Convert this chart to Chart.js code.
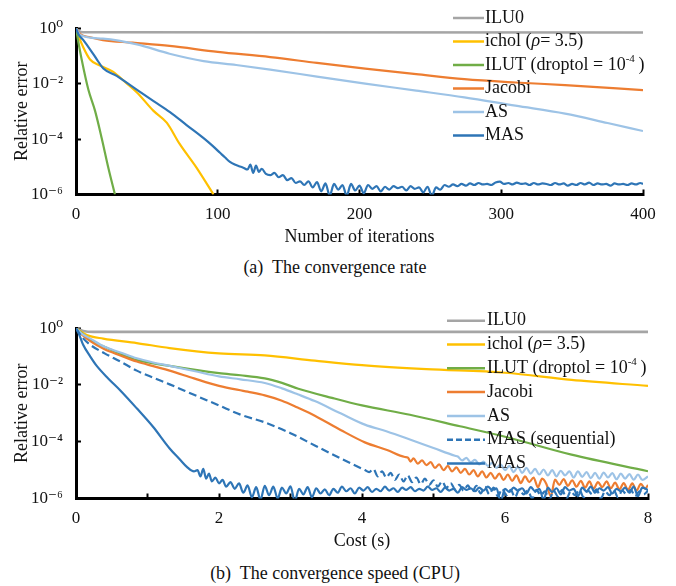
<!DOCTYPE html>
<html>
<head>
<meta charset="utf-8">
<script src="https://cdn.jsdelivr.net/npm/chart.js@4.4.1/dist/chart.umd.min.js"></script>
<style>
  html, body { margin: 0; padding: 0; background: #fff; }
  body { width: 676px; height: 586px; position: relative; overflow: hidden;
    font-family: "Liberation Serif", Tinos, "Times New Roman", "DejaVu Serif", "Noto Serif", serif; }
  .panel { position: absolute; left: 0; }
  .caption { position: absolute; left: 0; width: 670px; text-align: center; font-size: 18px; color: #111; white-space: pre; }
</style>
</head>
<body>
<canvas id="rate" class="panel" width="676" height="250" style="top:0"></canvas>
<div class="caption" style="top:257px">(a)  The convergence rate</div>
<canvas id="speed" class="panel" width="676" height="255" style="top:300px"></canvas>
<div class="caption" style="top:563px">(b)  The convergence speed (CPU)</div>
<script>
/*global Chart*/
(function () {
  "use strict";

  // ---- tick labels
  var errTicks = [1, 1e-2, 1e-4, 1e-6];
  var errTickLabels = ["10\u2070", "10\u207b\u00b2", "10\u207b\u2074", "10\u207b\u2076"];
  var iterTicks = [0, 100, 200, 300, 400];
  var costTicks = [0, 2, 4, 6, 8];
  var costTickMarks = [0, 1, 2, 3, 4, 5, 6, 7, 8];

  // ---- series names
  var rateNames = ["ILU0", "ichol (_\u03c1_= 3.5)", "ILUT (droptol = 10^{-4}\u2009)", "Jacobi", "AS", "MAS"];
  var speedNames = ["ILU0", "ichol (_\u03c1_= 3.5)", "ILUT (droptol = 10^{-4}\u2009)", "Jacobi", "AS", "MAS (sequential)", "MAS"];

  // ---- (a) relative error vs iterations, [iteration, error]
  var ilu0Rate = [[0, 1], [2, 0.78], [5, 0.71], [400, 0.7]];
  var icholRate = [[0, 1], [2, 0.5], [5.2, 0.2], [9.9, 0.074], [16.9, 0.045], [26, 0.027], [35, 0.011],
    [43, 0.0048], [54.5, 0.00106], [64, 3.9e-4], [73, 6.8e-5], [85, 9.3e-6], [97, 1e-6]];
  var ilutRate = [[0, 1], [1.6, 0.33], [4, 0.074], [8.7, 0.0061], [13.4, 0.00106], [18.1, 1.1e-4],
    [22.8, 9.3e-6], [27.5, 1e-6]];
  var jacobiRate = [[0, 1], [3, 0.61], [10, 0.47], [19, 0.37], [40, 0.3], [66, 0.23], [100, 0.14],
    [137, 0.091], [170, 0.056], [204, 0.035], [240, 0.022], [274, 0.0145], [310, 0.011], [345, 0.0089],
    [400, 0.0058]];
  var asRate = [[0, 1], [3, 0.57], [19, 0.42], [43, 0.26], [66, 0.12], [90, 0.065], [113, 0.047],
    [137, 0.032], [170, 0.018], [204, 0.01], [240, 0.0056], [274, 0.0032], [310, 0.0016], [345, 8.3e-4],
    [375, 3.8e-4], [400, 1.95e-4]];
  var masRate = [[0, 1], [1.6, 0.62], [5.2, 0.37], [10, 0.17], [15, 0.071], [19.3, 0.035], [28.7, 0.019],
    [35, 0.0115], [42.8, 0.0061], [55, 0.0023], [66.3, 9.4e-4], [78, 3.2e-4], [89.8, 1.1e-4], [96, 5.9e-5],
    [101.6, 3.2e-5], [105, 2.2e-5], [108.6, 1.5e-5], [112, 1.2e-5], [115, 1.05e-5], [118, 9.3e-6],
    [121, 8.0e-6], [123, 1.2e-5], [125, 6.0e-6], [127, 1.1e-5], [129, 6.5e-6], [131, 8.5e-6], [134, 5.5e-6],
    [137, 5.0e-6], [140, 6.0e-6], [143, 4.2e-6], [146, 5.0e-6], [149, 3.3e-6], [152, 3.9e-6], [155, 2.6e-6],
    [158, 3.0e-6], [161, 2.2e-6], [164, 3.0e-6], [167, 1.8e-6], [170, 2.8e-6], [173, 1.3e-6], [176, 2.5e-6],
    [179, 0.9e-6], [182, 2.4e-6], [185, 1.5e-6], [188, 2.2e-6], [191, 0.9e-6], [194, 2.4e-6], [197, 1.4e-6],
    [200, 2.1e-6], [203, 1.1e-6], [206, 2.2e-6], [209, 1.6e-6], [212, 2.0e-6], [215, 1.3e-6], [218, 1.9e-6],
    [221, 1.5e-6], [224, 2.0e-6], [227, 1.7e-6], [230, 1.9e-6], [233, 1.4e-6], [236, 2.0e-6], [239, 1.6e-6],
    [242, 1.8e-6], [245, 1.2e-6], [248, 1.9e-6], [251, 0.9e-6], [254, 1.8e-6], [257, 1.5e-6], [260, 2.2e-6],
    [263, 1.9e-6], [266, 2.3e-6], [269, 2.0e-6], [272, 2.4e-6], [275, 2.1e-6], [278, 2.5e-6], [281, 2.2e-6],
    [284, 2.6e-6], [287, 2.3e-6], [290, 2.4e-6], [293, 2.2e-6], [296, 2.7e-6], [299, 2.9e-6], [302, 2.4e-6],
    [305, 2.6e-6], [308, 2.3e-6], [311, 2.7e-6], [314, 2.4e-6], [317, 2.5e-6], [320, 2.2e-6], [323, 2.6e-6],
    [326, 2.3e-6], [329, 2.5e-6], [332, 2.4e-6], [335, 2.2e-6], [338, 2.6e-6], [341, 2.3e-6], [344, 2.5e-6],
    [347, 2.1e-6], [350, 2.4e-6], [353, 2.2e-6], [356, 2.6e-6], [359, 2.3e-6], [362, 2.7e-6], [365, 2.2e-6],
    [368, 2.5e-6], [371, 2.3e-6], [374, 2.4e-6], [377, 2.1e-6], [380, 2.5e-6], [383, 2.3e-6], [386, 2.4e-6],
    [389, 2.2e-6], [392, 2.5e-6], [395, 2.3e-6], [398, 2.6e-6], [400, 2.4e-6]];

  // ---- (b) relative error vs cost (s), [seconds, error]
  var ilu0Speed = [[0, 1], [0.1, 0.8], [0.25, 0.74], [8, 0.74]];
  var icholSpeed = [[0, 1], [0.15, 0.58], [0.38, 0.43], [0.85, 0.3], [1.31, 0.2], [2.0, 0.13], [2.64, 0.11],
    [3.34, 0.072], [4.0, 0.05], [4.9, 0.036], [6.0, 0.027], [6.93, 0.015], [8, 0.0093]];
  var ilutSpeed = [[0, 1], [0.2, 0.38], [0.38, 0.23], [0.62, 0.125], [0.85, 0.076], [1.31, 0.047],
    [2.0, 0.026], [2.3, 0.022], [2.64, 0.017], [2.88, 0.0118], [3.11, 0.0074], [3.58, 0.0035], [4.0, 0.0019],
    [4.67, 8.9e-4], [5.37, 3.5e-4], [6.0, 1.5e-4], [6.93, 3.5e-5], [8, 9.1e-6]];
  var jacobiSpeed = [[0, 1], [0.08, 0.6], [0.2, 0.35], [0.4, 0.18], [0.62, 0.11], [0.85, 0.067],
    [1.08, 0.046], [1.31, 0.032], [1.65, 0.017], [2.0, 0.0093], [2.4, 0.0058], [2.64, 0.0043], [2.88, 0.0028],
    [3.1, 0.0016], [3.34, 8.3e-4], [3.7, 2.6e-4], [4.04, 9.5e-5], [4.35, 5.1e-5], [4.6, 2.9e-5],
    [4.64, 2.8e-5], [4.68, 2.0e-5], [4.72, 2.6e-5], [4.78, 1.7e-5], [4.84, 2.2e-5], [4.90, 1.5e-5],
    [4.96, 1.9e-5], [5.02, 1.2e-5], [5.08, 1.6e-5], [5.14, 1.0e-5], [5.20, 1.4e-5], [5.26, 9.0e-6],
    [5.32, 1.25e-5], [5.38, 8.0e-6], [5.44, 1.1e-5], [5.50, 7.0e-6], [5.56, 1.0e-5], [5.62, 6.0e-6],
    [5.68, 9.0e-6], [5.74, 5.5e-6], [5.80, 8.0e-6], [5.86, 5.0e-6], [5.92, 7.5e-6], [5.98, 4.5e-6],
    [6.04, 7.0e-6], [6.10, 4.2e-6], [6.16, 6.5e-6], [6.22, 3.5e-6], [6.28, 6.0e-6], [6.34, 3.8e-6],
    [6.40, 5.5e-6], [6.46, 2.5e-6], [6.52, 5.0e-6], [6.58, 3.2e-6], [6.64, 1.2e-6], [6.70, 4.6e-6],
    [6.76, 3.0e-6], [6.82, 4.8e-6], [6.88, 2.8e-6], [6.94, 4.4e-6], [7.00, 2.6e-6], [7.06, 4.2e-6],
    [7.12, 2.4e-6], [7.18, 4.0e-6], [7.24, 2.2e-6], [7.30, 3.8e-6], [7.36, 2.5e-6], [7.42, 4.0e-6],
    [7.48, 2.3e-6], [7.54, 3.6e-6], [7.60, 2.1e-6], [7.66, 3.5e-6], [7.72, 2.0e-6], [7.78, 3.4e-6],
    [7.84, 1.9e-6], [7.90, 3.3e-6], [7.96, 2.2e-6], [8.00, 3.0e-6]];
  var asSpeed = [[0, 1], [0.08, 0.65], [0.2, 0.43], [0.4, 0.22], [0.62, 0.14], [0.85, 0.087], [1.08, 0.062],
    [1.31, 0.047], [1.65, 0.031], [2.0, 0.02], [2.3, 0.0158], [2.64, 0.0117], [2.88, 0.0076], [3.1, 0.0047],
    [3.34, 0.0027], [3.7, 0.001], [4.04, 4e-4], [4.35, 2.3e-4], [4.67, 1.2e-4], [5.0, 6e-5], [5.3, 3.2e-5],
    [5.34, 3.0e-5], [5.40, 2.2e-5], [5.46, 2.7e-5], [5.52, 1.9e-5], [5.58, 2.3e-5], [5.64, 1.6e-5],
    [5.70, 2.0e-5], [5.76, 1.4e-5], [5.82, 1.8e-5], [5.88, 1.2e-5], [5.94, 1.6e-5], [6.00, 1.0e-5],
    [6.06, 1.4e-5], [6.12, 8.5e-6], [6.18, 1.3e-5], [6.24, 8.0e-6], [6.30, 1.2e-5], [6.36, 7.5e-6],
    [6.42, 1.1e-5], [6.48, 7.0e-6], [6.54, 1.05e-5], [6.60, 6.5e-6], [6.66, 1.0e-5], [6.72, 6.0e-6],
    [6.78, 9.5e-6], [6.84, 6.5e-6], [6.90, 9.0e-6], [6.96, 5.5e-6], [7.02, 9.0e-6], [7.08, 5.8e-6],
    [7.14, 8.5e-6], [7.20, 5.2e-6], [7.26, 8.0e-6], [7.32, 5.0e-6], [7.38, 8.2e-6], [7.44, 5.5e-6],
    [7.50, 7.8e-6], [7.56, 4.8e-6], [7.62, 7.5e-6], [7.68, 5.0e-6], [7.74, 7.2e-6], [7.80, 4.6e-6],
    [7.86, 7.0e-6], [7.92, 4.5e-6], [8.00, 6.0e-6]];
  var masSeqSpeed = [[0, 1], [0.08, 0.5], [0.2, 0.26], [0.4, 0.13], [0.62, 0.067], [0.85, 0.032],
    [1.08, 0.018], [1.31, 0.0105], [1.65, 0.0045], [2.0, 0.0019], [2.3, 9e-4], [2.64, 4.8e-4], [3.0, 2e-4],
    [3.34, 7.4e-5], [3.7, 2.6e-5], [4.04, 1e-5],
    [4.10, 8.5e-6], [4.16, 1.1e-5], [4.22, 6.0e-6], [4.28, 9.0e-6], [4.34, 5.5e-6], [4.40, 8.0e-6],
    [4.46, 4.5e-6], [4.52, 7.0e-6], [4.58, 4.0e-6], [4.64, 6.5e-6], [4.70, 3.8e-6], [4.76, 5.5e-6],
    [4.82, 3.2e-6], [4.88, 5.0e-6], [4.94, 3.0e-6], [5.00, 4.4e-6], [5.06, 2.6e-6], [5.12, 4.0e-6],
    [5.18, 2.4e-6], [5.24, 3.5e-6], [5.30, 2.2e-6], [5.36, 3.0e-6], [5.42, 1.9e-6], [5.48, 2.9e-6],
    [5.54, 1.7e-6], [5.60, 2.8e-6], [5.66, 1.5e-6], [5.72, 2.6e-6], [5.78, 1.4e-6], [5.84, 2.4e-6],
    [5.90, 1.2e-6], [5.96, 2.2e-6], [6.02, 1.3e-6], [6.08, 2.0e-6], [6.14, 1.1e-6], [6.20, 2.1e-6],
    [6.26, 1.4e-6], [6.32, 1.9e-6], [6.38, 1.0e-6], [6.44, 2.0e-6], [6.50, 1.3e-6], [6.56, 1.8e-6],
    [6.62, 0.9e-6], [6.68, 1.9e-6], [6.74, 1.2e-6], [6.80, 2.0e-6], [6.86, 1.0e-6], [6.92, 1.8e-6],
    [6.98, 1.3e-6], [7.04, 2.0e-6], [7.10, 1.1e-6], [7.16, 1.9e-6], [7.22, 1.4e-6], [7.28, 2.1e-6],
    [7.34, 1.0e-6], [7.40, 1.8e-6], [7.46, 1.3e-6], [7.52, 2.0e-6], [7.58, 1.1e-6], [7.64, 1.9e-6],
    [7.70, 1.4e-6], [7.76, 2.0e-6], [7.82, 1.2e-6], [7.88, 1.8e-6], [7.94, 1.4e-6], [8.00, 1.9e-6]];
  var masSpeed = [[0, 1], [0.05, 0.55], [0.1, 0.26], [0.2, 0.1], [0.29, 0.047], [0.45, 0.017],
    [0.62, 0.0064], [0.85, 0.0015], [1.08, 3.3e-4], [1.31, 5.8e-5], [1.45, 2.4e-5], [1.55, 1.3e-5],
    [1.65, 9e-6], [1.70, 1.0e-5], [1.74, 6.0e-6], [1.78, 1.1e-5], [1.82, 5.0e-6], [1.86, 7.5e-6],
    [1.90, 4.0e-6], [1.95, 5.5e-6], [2.00, 3.4e-6], [2.05, 4.5e-6], [2.10, 2.6e-6], [2.16, 3.8e-6],
    [2.22, 2.2e-6], [2.28, 3.4e-6], [2.34, 1.6e-6], [2.40, 2.9e-6], [2.46, 1.1e-6], [2.52, 2.5e-6],
    [2.58, 0.9e-6], [2.64, 2.8e-6], [2.70, 1.3e-6], [2.76, 2.6e-6], [2.82, 1.0e-6], [2.88, 2.4e-6],
    [2.94, 1.5e-6], [3.00, 2.7e-6], [3.06, 0.8e-6], [3.12, 2.2e-6], [3.18, 1.4e-6], [3.24, 2.5e-6],
    [3.30, 1.1e-6], [3.36, 2.3e-6], [3.42, 1.5e-6], [3.48, 2.1e-6], [3.54, 1.3e-6], [3.60, 2.2e-6],
    [3.66, 1.6e-6], [3.72, 2.6e-6], [3.78, 1.8e-6], [3.84, 2.3e-6], [3.90, 1.5e-6], [3.96, 2.4e-6],
    [4.02, 1.9e-6], [4.08, 2.5e-6], [4.14, 1.7e-6], [4.20, 2.2e-6], [4.26, 1.8e-6], [4.32, 2.6e-6],
    [4.38, 1.9e-6], [4.44, 2.3e-6], [4.50, 1.7e-6], [4.56, 2.4e-6], [4.62, 2.0e-6], [4.68, 2.5e-6],
    [4.74, 1.8e-6], [4.80, 2.2e-6], [4.86, 1.9e-6], [4.92, 2.6e-6], [4.98, 2.0e-6], [5.04, 2.3e-6],
    [5.10, 1.7e-6], [5.16, 2.4e-6], [5.22, 1.9e-6], [5.28, 2.2e-6], [5.34, 1.6e-6], [5.40, 2.5e-6],
    [5.46, 2.0e-6], [5.52, 2.3e-6], [5.58, 1.8e-6], [5.64, 2.4e-6], [5.70, 1.9e-6], [5.76, 2.6e-6],
    [5.82, 2.0e-6], [5.88, 2.3e-6], [5.94, 0.8e-6], [6.00, 2.2e-6], [6.06, 1.7e-6], [6.12, 2.4e-6],
    [6.18, 1.9e-6], [6.24, 2.3e-6], [6.30, 1.5e-6], [6.36, 2.5e-6], [6.42, 1.8e-6], [6.48, 2.2e-6],
    [6.54, 0.9e-6], [6.60, 2.4e-6], [6.66, 1.7e-6], [6.72, 2.3e-6], [6.78, 1.4e-6], [6.84, 2.5e-6],
    [6.90, 1.9e-6], [6.96, 2.2e-6], [7.02, 1.2e-6], [7.08, 2.4e-6], [7.14, 1.8e-6], [7.20, 2.6e-6],
    [7.26, 1.6e-6], [7.32, 2.3e-6], [7.38, 1.9e-6], [7.44, 2.5e-6], [7.50, 1.5e-6], [7.56, 2.2e-6],
    [7.62, 1.8e-6], [7.68, 2.4e-6], [7.74, 1.6e-6], [7.80, 2.6e-6], [7.86, 1.2e-6], [7.92, 2.4e-6],
    [8.00, 2.0e-6]];

  var FONT = "\"Liberation Serif\", Tinos, \"Times New Roman\", \"DejaVu Serif\", \"Noto Serif\", serif";
  var INK = "#111";
  var palette = {
    ilu0: "#a5a5a5",
    ichol: "#ffc000",
    ilut: "#70ad47",
    jacobi: "#ed7d31",
    as: "#9dc3e6",
    mas: "#2e75b6"
  };

  // draws "_italic_" and "^{superscript}" pieces of a label
  function drawRich(ctx, text, x, y, size) {
    var parts = text.split(/(\^\{[^}]*\}|_[^_]+_)/), i, p, font, dy, s;
    ctx.textBaseline = "middle";
    ctx.textAlign = "left";
    ctx.fillStyle = INK;
    for (i = 0; i < parts.length; i += 1) {
      p = parts[i];
      if (p) {
        font = size + "px " + FONT;
        dy = 0;
        s = p;
        if (p.indexOf("^{") === 0) {
          s = p.slice(2, -1);
          font = Math.round(size * 0.62) + "px " + FONT;
          dy = -size * 0.33;
        } else if (p.charAt(0) === "_") {
          s = p.slice(1, -1);
          font = "italic " + size + "px " + FONT;
        }
        ctx.font = font;
        ctx.fillText(s, x, y + dy);
        x += ctx.measureText(s).width;
      }
    }
  }

  var richLegend = {
    id: "richLegend",
    afterDraw: function (chart, args, opts) {
      var ctx = chart.ctx;
      ctx.save();
      chart.data.datasets.forEach(function (ds, i) {
        var y = opts.top + i * opts.step;
        ctx.beginPath();
        ctx.strokeStyle = ds.borderColor;
        ctx.lineWidth = 2.5;
        ctx.setLineDash(ds.borderDash ? [6, 3] : []);
        ctx.moveTo(opts.lineFrom, y);
        ctx.lineTo(opts.lineTo, y);
        ctx.stroke();
        ctx.setLineDash([]);
        drawRich(ctx, ds.label, opts.textX, y, opts.size);
      });
      ctx.restore();
    }
  };

  function series(label, pts, color, dashed) {
    return {
      label: label,
      data: pts,
      borderColor: color,
      borderWidth: color === palette.ilu0 ? 2.6 : 2.2,
      borderDash: dashed ? [8, 4] : undefined,
      pointRadius: 0,
      cubicInterpolationMode: "monotone",
      fill: false
    };
  }

  function errAxis(titlePad) {
    return {
      type: "logarithmic",
      min: 1e-6,
      max: 1,
      afterBuildTicks: function (scale) {
        scale.ticks = errTicks.map(function (v) { return {value: v}; });
      },
      afterFit: function (scale) { scale.width = 76; },
      ticks: {
        padding: 18,
        color: INK,
        font: {family: FONT, size: 17},
        callback: function (v) {
          var k = errTicks.indexOf(v);
          return k < 0 ? "" : errTickLabels[k];
        }
      },
      grid: {drawOnChartArea: false, tickLength: -5, tickWidth: 2, tickColor: "#000"},
      border: {color: "#000", width: 3},
      title: {display: true, text: "Relative error", color: INK, font: {family: FONT, size: 18},
        padding: {top: titlePad, bottom: 0}}
    };
  }

  function makeChart(id, datasets, xAxis, pad, legend) {
    datasets.forEach(function (ds, i) { ds.order = datasets.length - i; });
    return new Chart(document.getElementById(id), {
      type: "line",
      data: {datasets: datasets},
      plugins: [richLegend],
      options: {
        responsive: false,
        animation: false,
        devicePixelRatio: 1,
        events: [],
        layout: {padding: pad},
        plugins: {legend: {display: false}, tooltip: {enabled: false}, richLegend: legend},
        scales: {x: xAxis, y: errAxis(11)}
      }
    });
  }

  makeChart("rate", [
    series(rateNames[0], ilu0Rate, palette.ilu0),
    series(rateNames[1], icholRate, palette.ichol),
    series(rateNames[2], ilutRate, palette.ilut),
    series(rateNames[3], jacobiRate, palette.jacobi),
    series(rateNames[4], asRate, palette.as),
    series(rateNames[5], masRate, palette.mas)
  ], {
    type: "linear",
    min: 0,
    max: 400,
    afterBuildTicks: function (scale) {
      scale.ticks = iterTicks.map(function (v) { return {value: v}; });
    },
    afterFit: function (scale) { scale.height = 55.5; },
    ticks: {padding: 15, color: INK, font: {family: FONT, size: 17}, maxRotation: 0, autoSkip: false},
    grid: {drawOnChartArea: false, tickLength: -5, tickWidth: 2, tickColor: "#000"},
    border: {color: "#000", width: 3},
    title: {display: true, text: "Number of iterations", color: INK, font: {family: FONT, size: 18},
      padding: {top: 0, bottom: 2}}
  }, {top: 10, right: 33, bottom: 0, left: 0},
    {top: 18, step: 23.5, lineFrom: 453, lineTo: 484, textX: 485, size: 18});

  makeChart("speed", [
    series(speedNames[0], ilu0Speed, palette.ilu0),
    series(speedNames[1], icholSpeed, palette.ichol),
    series(speedNames[2], ilutSpeed, palette.ilut),
    series(speedNames[3], jacobiSpeed, palette.jacobi),
    series(speedNames[4], asSpeed, palette.as),
    series(speedNames[5], masSeqSpeed, palette.mas, true),
    series(speedNames[6], masSpeed, palette.mas)
  ], {
    type: "linear",
    min: 0,
    max: 8,
    afterBuildTicks: function (scale) {
      scale.ticks = costTickMarks.map(function (v) { return {value: v}; });
    },
    afterFit: function (scale) { scale.height = 56.5; },
    ticks: {
      padding: 15,
      color: INK,
      font: {family: FONT, size: 17},
      maxRotation: 0,
      autoSkip: false,
      callback: function (v) { return costTicks.indexOf(v) < 0 ? "" : String(v); }
    },
    grid: {drawOnChartArea: false, tickLength: -5, tickWidth: 2, tickColor: "#000"},
    border: {color: "#000", width: 3},
    title: {display: true, text: "Cost (s)", color: INK, font: {family: FONT, size: 18},
      padding: {top: 0, bottom: 3}}
  }, {top: 12, right: 28, bottom: 0, left: 0},
    {top: 20.7, step: 23.8, lineFrom: 447, lineTo: 485, textX: 487, size: 18});
}());
</script>
</body>
</html>
